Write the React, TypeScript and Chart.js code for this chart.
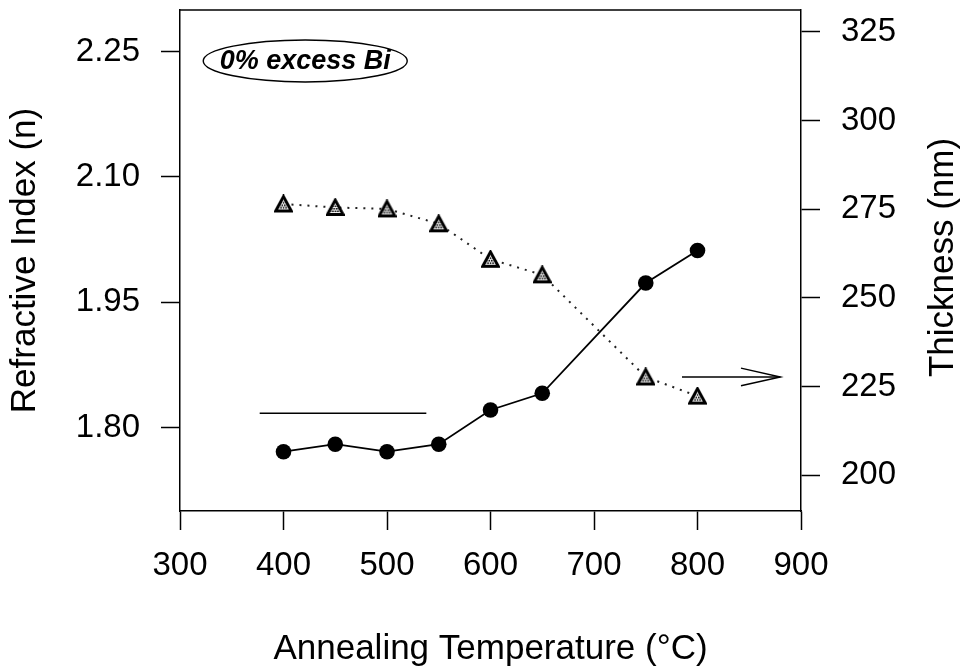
import { useEffect, useRef } from "react";
import { Chart, registerables } from "chart.js";

Chart.register(...registerables);

// ---- data ----
const TEMPERATURES = [400, 450, 500, 550, 600, 650, 750, 800];
const REFRACTIVE_INDEX = [1.771, 1.78, 1.771, 1.78, 1.821, 1.841, 1.973, 2.012];
const THICKNESS_NM = [276.5, 275.5, 275.1, 270.9, 260.9, 256.5, 227.7, 222.3];

const X_TICKS = [300, 400, 500, 600, 700, 800, 900];
const LEFT_TICKS = [1.8, 1.95, 2.1, 2.25];
const RIGHT_TICKS = [200, 225, 250, 275, 300, 325];
const X_RANGE = [300, 900];
const LEFT_RANGE = [1.7, 2.3];
const RIGHT_RANGE = [189.9, 331.2];

// annotation marks (data coordinates)
const GUIDE_LINE_X = [377, 538];
const GUIDE_LINE_Y = [1.817, 1.817];
const ARROW_SHAFT_X = [785, 880];
const ARROW_SHAFT_Y = [227.7, 227.7];
const ARROW_HEAD_X = [842, 880, 842];
const ARROW_HEAD_Y = [230.2, 227.7, 225.2];
const LABEL_TEXT = "0% excess Bi";
const LABEL_X = [421];
const LABEL_Y = [2.239];

const X_TITLE = "Annealing Temperature (°C)";
const LEFT_TITLE = "Refractive Index (n)";
const RIGHT_TITLE = "Thickness (nm)";

const FONT = "'Liberation Sans', Arial, Helvetica, sans-serif";

function pts(xs: number[], ys: number[]) {
  return xs.map((x, i) => ({ x, y: ys[i] }));
}

function makeTriangle(): HTMLCanvasElement {
  const c = document.createElement("canvas");
  c.width = 19;
  c.height = 19;
  const g = c.getContext("2d")!;
  const path = () => {
    g.beginPath();
    g.moveTo(9.5, 2);
    g.lineTo(1.6, 16.5);
    g.lineTo(17.4, 16.5);
    g.closePath();
  };
  path();
  g.fillStyle = "#fff";
  g.fill();
  g.save();
  path();
  g.clip();
  g.fillStyle = "#000";
  for (let y = 0; y < 19; y += 2.5) {
    for (let x = Math.round(y / 2.5) % 2 ? 1.25 : 0; x < 19; x += 2.5) {
      g.fillRect(x, y, 1.6, 1.6);
    }
  }
  g.restore();
  path();
  g.lineWidth = 2.8;
  g.strokeStyle = "#000";
  g.lineJoin = "miter";
  g.stroke();
  return c;
}

const zeroPad = (s: any) => {
  s.paddingTop = 0;
  s.paddingBottom = 0;
  s.paddingLeft = 0;
  s.paddingRight = 0;
};

const decorPlugin = {
  id: "decor",
  beforeDraw(chart: any) {
    const { ctx, width, height } = chart;
    ctx.save();
    ctx.fillStyle = "#fff";
    ctx.fillRect(0, 0, width, height);
    ctx.restore();
  },
  afterDraw(chart: any) {
    const { ctx, chartArea, scales } = chart;
    ctx.save();
    // top frame line
    ctx.strokeStyle = "#000";
    ctx.lineWidth = 1.5;
    ctx.beginPath();
    ctx.moveTo(chartArea.left, chartArea.top);
    ctx.lineTo(chartArea.right, chartArea.top);
    ctx.stroke();

    // ellipse label
    const cx = scales.x.getPixelForValue(LABEL_X[0]);
    const cy = scales.y.getPixelForValue(LABEL_Y[0]);
    ctx.beginPath();
    ctx.ellipse(cx, cy, 102, 21, 0, 0, Math.PI * 2);
    ctx.lineWidth = 1.4;
    ctx.stroke();
    ctx.fillStyle = "#000";
    ctx.font = `italic bold 27px ${FONT}`;
    ctx.textAlign = "center";
    ctx.textBaseline = "middle";
    ctx.fillText(LABEL_TEXT, cx, cy + 1);

    // right axis title (reads bottom-to-top)
    const r = scales.y1;
    ctx.translate(943, (r.top + r.bottom) / 2 - 3);
    ctx.rotate(-Math.PI / 2);
    ctx.font = `35px ${FONT}`;
    ctx.fillText(RIGHT_TITLE, 0, 0);
    ctx.restore();
  },
};

export default function App() {
  const ref = useRef<HTMLCanvasElement>(null);

  useEffect(() => {
    const tri = makeTriangle();
    const tickFont = { family: FONT, size: 33 };
    const grid = {
      display: true,
      drawOnChartArea: false,
      drawTicks: true,
      tickLength: 19,
      tickWidth: 1.5,
      tickColor: "#000",
    };
    const border = { display: true, color: "#000", width: 1.5 };

    const chart = new Chart(ref.current!, {
      type: "line",
      data: {
        datasets: [
          {
            label: "Refractive Index",
            data: pts(TEMPERATURES, REFRACTIVE_INDEX),
            yAxisID: "y",
            borderColor: "#000",
            borderWidth: 1.8,
            pointStyle: "circle",
            pointRadius: 7.8,
            pointBackgroundColor: "#000",
            pointBorderColor: "#000",
            pointBorderWidth: 0,
            tension: 0,
          },
          {
            label: "Thickness",
            data: pts(TEMPERATURES, THICKNESS_NM),
            yAxisID: "y1",
            borderColor: "#222",
            borderWidth: 2,
            borderDash: [2, 6],
            borderCapStyle: "butt",
            pointStyle: tri,
            pointRadius: 8,
            tension: 0,
          },
          {
            label: "guide",
            data: pts(GUIDE_LINE_X, GUIDE_LINE_Y),
            yAxisID: "y",
            borderColor: "#000",
            borderWidth: 1.5,
            pointRadius: 0,
          },
          {
            label: "arrow",
            data: pts(ARROW_SHAFT_X, ARROW_SHAFT_Y),
            yAxisID: "y1",
            borderColor: "#000",
            borderWidth: 1.5,
            pointRadius: 0,
          },
          {
            label: "arrowhead",
            data: pts(ARROW_HEAD_X, ARROW_HEAD_Y),
            yAxisID: "y1",
            borderColor: "#000",
            borderWidth: 1.5,
            pointRadius: 0,
            borderJoinStyle: "miter",
          },
        ] as any,
      },
      options: {
        animation: false,
        responsive: false,
        devicePixelRatio: 1,
        layout: { padding: { top: 9, left: 0, right: 0, bottom: 0 } },
        plugins: {
          legend: { display: false },
          tooltip: { enabled: false },
        },
        scales: {
          x: {
            type: "linear",
            position: "bottom",
            min: X_RANGE[0],
            max: X_RANGE[1],
            afterBuildTicks: (s: any) => {
              s.ticks = X_TICKS.map((v) => ({ value: v }));
            },
            afterFit: (s: any) => {
              s.height = 156;
              zeroPad(s);
            },
            ticks: {
              color: "#000",
              font: tickFont,
              padding: 16,
              maxRotation: 0,
              autoSkip: false,
              callback: (v: any) => String(v),
            },
            grid,
            border,
            title: {
              display: true,
              text: X_TITLE,
              color: "#000",
              font: { family: FONT, size: 35, lineHeight: 1 },
              padding: { top: 0, bottom: 0 },
            },
          },
          y: {
            type: "linear",
            position: "left",
            min: LEFT_RANGE[0],
            max: LEFT_RANGE[1],
            afterBuildTicks: (s: any) => {
              s.ticks = LEFT_TICKS.map((v) => ({ value: v }));
            },
            afterFit: (s: any) => {
              s.width = 180;
              zeroPad(s);
            },
            ticks: {
              color: "#000",
              font: tickFont,
              padding: 21,
              autoSkip: false,
              callback: (v: any) => Number(v).toFixed(2),
            },
            grid,
            border,
            title: {
              display: true,
              text: LEFT_TITLE,
              color: "#000",
              font: { family: FONT, size: 35, lineHeight: 1.2 },
              padding: { top: 4, bottom: 0 },
            },
          },
          y1: {
            type: "linear",
            position: "right",
            min: RIGHT_RANGE[0],
            max: RIGHT_RANGE[1],
            afterBuildTicks: (s: any) => {
              s.ticks = RIGHT_TICKS.map((v) => ({ value: v }));
            },
            afterFit: (s: any) => {
              s.width = 174;
              zeroPad(s);
            },
            ticks: {
              color: "#000",
              font: tickFont,
              padding: 21,
              autoSkip: false,
              callback: (v: any) => String(v),
            },
            grid,
            border,
            title: { display: false },
          },
        },
      } as any,
      plugins: [decorPlugin],
    });
    return () => chart.destroy();
  }, []);

  return (
    <div
      style={{
        position: "absolute",
        left: 0,
        top: 0,
        width: 975,
        height: 667,
        background: "#fff",
      }}
    >
      <canvas ref={ref} width={975} height={667} style={{ display: "block" }} />
    </div>
  );
}
